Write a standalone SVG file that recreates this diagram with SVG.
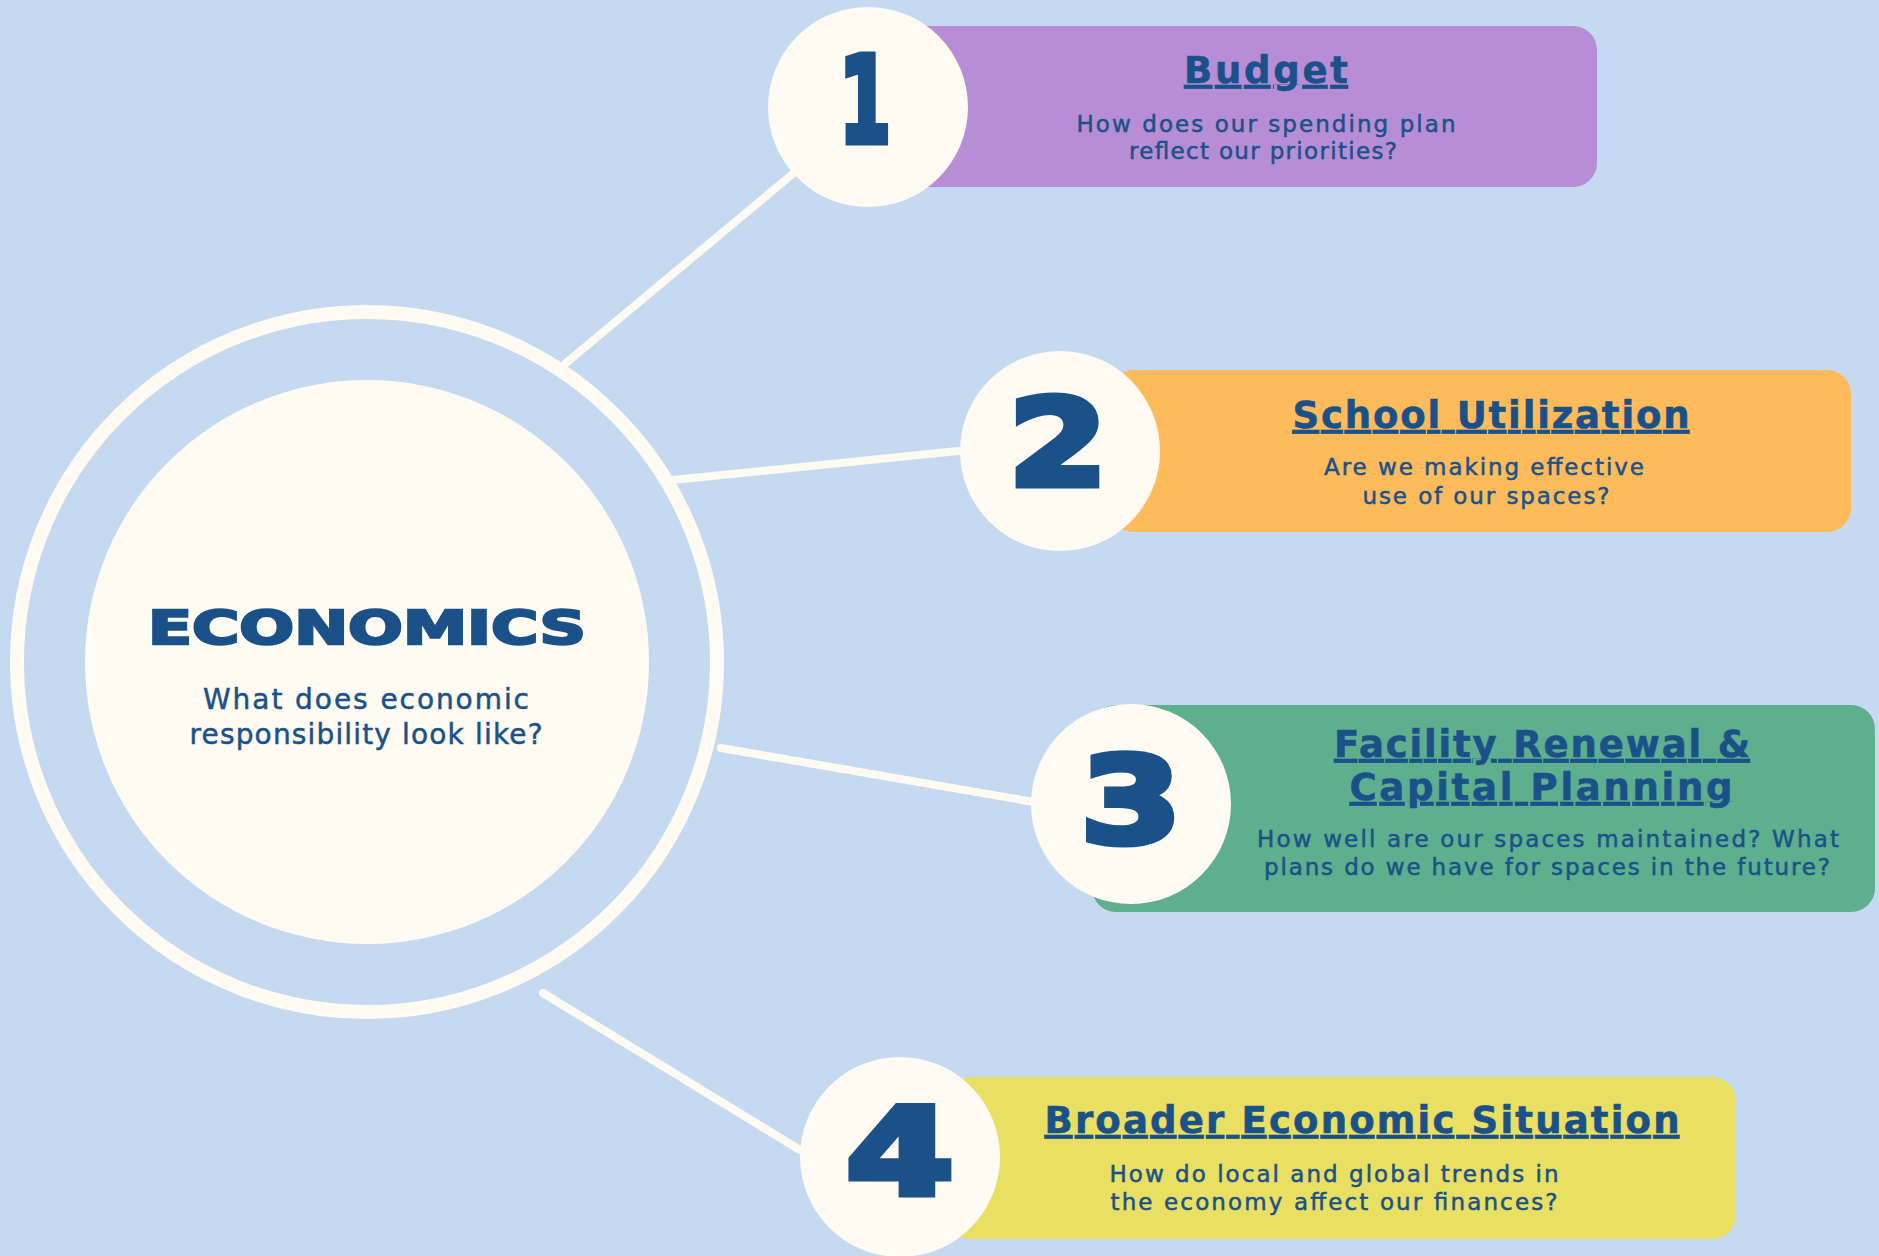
<svg xmlns="http://www.w3.org/2000/svg" width="1879" height="1256" viewBox="0 0 1879 1256">
<style>
.bg{fill:#C5D9F1}
.cream{fill:#FFFBF3}
.conn{stroke:#FFFBF3;stroke-width:8;stroke-linecap:round;fill:none}
.num{font-family:"DejaVu Sans",sans-serif;font-weight:bold;font-size:120px;fill:#1B5189;stroke:#1B5189;stroke-width:7;stroke-linejoin:miter;text-anchor:middle}
.title{font-family:"DejaVu Sans",sans-serif;font-weight:bold;font-size:37px;fill:#1B5189;stroke:#1B5189;stroke-width:0.6;text-anchor:middle;text-decoration:underline}
.sub{font-family:"DejaVu Sans",sans-serif;font-size:23px;fill:#1B5189;stroke:#1B5189;stroke-width:0.5;text-anchor:middle}
.csub{font-family:"DejaVu Sans",sans-serif;font-size:28px;fill:#1B5189;stroke:#1B5189;stroke-width:0.5;text-anchor:middle}
</style>
<rect class="bg" x="0" y="0" width="1879" height="1256"/>
<g id="connectors">
<line class="conn" x1="566" y1="363" x2="795" y2="172"/>
<line class="conn" x1="673" y1="480" x2="958" y2="451"/>
<line class="conn" x1="721" y1="748" x2="1034" y2="802"/>
<line class="conn" x1="543" y1="993" x2="800" y2="1150"/>
</g>
<g id="economics">
<circle cx="367" cy="662" r="350" fill="none" stroke="#FFFBF3" stroke-width="14"/>
<circle class="cream" cx="367" cy="662" r="282"/>
<text x="367" y="644" font-family="DejaVu Sans,sans-serif" font-weight="bold" font-size="46" fill="#1B5189" stroke="#1B5189" stroke-width="2.5" text-anchor="middle" textLength="438" lengthAdjust="spacingAndGlyphs">ECONOMICS</text>
<text class="csub" x="366" y="709" textLength="326">What does economic</text>
<text class="csub" x="366" y="744" textLength="353">responsibility look like?</text>
</g>
<g id="item1">
<rect x="900" y="26" width="697" height="161" rx="24" fill="#B78ED6"/>
<circle class="cream" cx="868" cy="107" r="100"/>
<text class="num" x="865" y="142" textLength="52" lengthAdjust="spacingAndGlyphs">1</text>
<text class="title" x="1266" y="83" textLength="164">Budget</text>
<text class="sub" x="1266" y="132" textLength="379">How does our spending plan</text>
<text class="sub" x="1263" y="159" textLength="268">reflect our priorities?</text>
</g>
<g id="item2">
<rect x="1110" y="370" width="741" height="162" rx="24" fill="#FEBB5B"/>
<circle class="cream" cx="1060" cy="451" r="100"/>
<text class="num" x="1058" y="485" textLength="99" lengthAdjust="spacingAndGlyphs">2</text>
<text class="title" x="1491" y="428" textLength="397">School Utilization</text>
<text class="sub" x="1484" y="475" textLength="320">Are we making effective</text>
<text class="sub" x="1486" y="504" textLength="247">use of our spaces?</text>
</g>
<g id="item3">
<rect x="1092" y="705" width="783" height="207" rx="24" fill="#5EAF8E"/>
<circle class="cream" cx="1131" cy="804" r="100"/>
<text class="num" x="1131" y="842" textLength="101" lengthAdjust="spacingAndGlyphs">3</text>
<text class="title" x="1542" y="757" textLength="416">Facility Renewal &amp;</text>
<text class="title" x="1541" y="800" textLength="383">Capital Planning</text>
<text class="sub" x="1548" y="847" textLength="582">How well are our spaces maintained? What</text>
<text class="sub" x="1547" y="875" textLength="566">plans do we have for spaces in the future?</text>
</g>
<g id="item4">
<rect x="947" y="1077" width="789" height="162" rx="24" fill="#E8DF63"/>
<circle class="cream" cx="900" cy="1157" r="100"/>
<text class="num" x="900" y="1194" textLength="108" lengthAdjust="spacingAndGlyphs">4</text>
<text class="title" x="1362" y="1133" textLength="635">Broader Economic Situation</text>
<text class="sub" x="1334" y="1182" textLength="449">How do local and global trends in</text>
<text class="sub" x="1334" y="1210" textLength="447">the economy affect our finances?</text>
</g>
</svg>
